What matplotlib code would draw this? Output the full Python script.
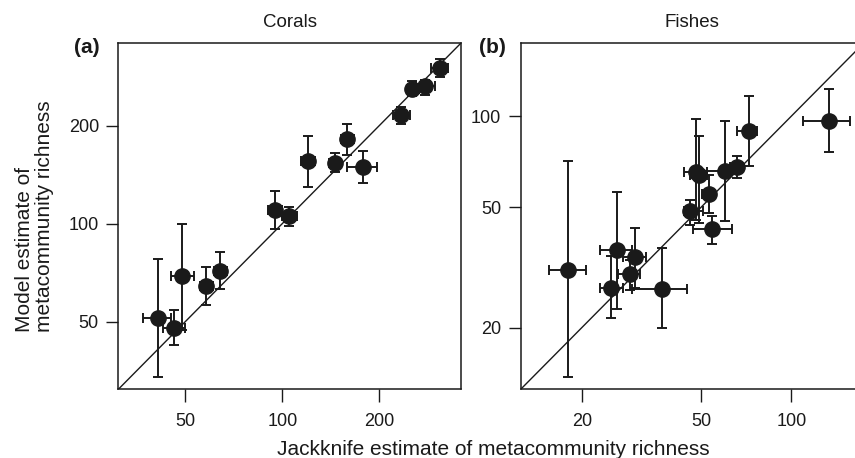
import numpy as np
import matplotlib
matplotlib.use("Agg")
import matplotlib.pyplot as plt
from matplotlib.ticker import NullLocator

plt.rcParams['font.family'] = ['Liberation Sans', 'DejaVu Sans']

# Corals: jackknife estimate (x) vs model estimate (y), with interval bounds
coral_x = [41.2, 46.2, 49.0, 58.1, 64.2, 95, 105, 120, 146, 159, 177.6, 233, 253, 277, 308]
coral_xlo = [37, 42.6, 45.2, 55.6, 61.2, 90.6, 100, 114, 140, 152.5, 158.3, 220.6, 243, 260, 290]
coral_xhi = [45.2, 50.0, 53.3, 60.9, 67.5, 100, 111, 126.6, 152, 167, 197, 249, 266, 298, 326]
coral_y = [51.4, 47.9, 69, 64.3, 71.5, 110.4, 105.4, 155.3, 153.6, 182.2, 149.2, 216, 259.5, 264, 300]
coral_ylo = [33.9, 42.3, 47, 56.1, 63.1, 96.4, 98.2, 129.3, 143.6, 162.8, 133.4, 203, 247, 248, 282]
coral_yhi = [78, 54.3, 100, 73.8, 81.8, 126.3, 112.7, 186, 164.7, 201.6, 166.6, 227.5, 273.5, 277, 321]

# Fishes
fish_x = [18.0, 25.1, 26.1, 29.0, 30.0, 36.9, 46.0, 48.0, 49.0, 53.0, 54.5, 60.0, 66.0, 72.0, 133.4]
fish_xlo = [15.5, 22.9, 23.0, 26.3, 27.5, 29.3, 43.8, 43.9, 45.8, 50.4, 46.8, 49.4, 62.3, 66, 109.2]
fish_xhi = [20.6, 27.4, 29.3, 31.2, 32.6, 44.8, 50.6, 52.4, 52.4, 55.8, 63.2, 63.3, 69, 77, 157]
fish_y = [31.1, 27.1, 36.0, 30.0, 34.2, 26.9, 48.5, 65.4, 63.8, 55.1, 42.3, 65.7, 68.0, 89.3, 96.6]
fish_ylo = [13.7, 21.5, 23.1, 26.6, 27.0, 19.9, 43.5, 45.3, 44.2, 47.8, 37.7, 45.0, 62.4, 68.4, 75.9]
fish_yhi = [71, 34.4, 56.2, 33.4, 42.8, 36.5, 52.7, 97.8, 86, 63.8, 46.9, 96.5, 73.8, 116.3, 123]

coral_lim = (31, 358)
fish_lim = (12.5, 174)
coral_ticks = [50, 100, 200]
fish_ticks = [20, 50, 100]

ink = '#1a1a1a'


def panel(ax, x, xlo, xhi, y, ylo, yhi, lim, ticks, title, tag_x, tag):
    x, y = np.array(x), np.array(y)
    xerr = [x - np.array(xlo), np.array(xhi) - x]
    yerr = [y - np.array(ylo), np.array(yhi) - y]
    ax.set_xscale('log')
    ax.set_yscale('log')
    ax.set_xlim(lim)
    ax.set_ylim(lim)
    ax.axline((lim[0], lim[0]), (lim[1], lim[1]), color=ink, lw=1.0, zorder=1)
    ax.errorbar(x, y, xerr=xerr, yerr=yerr, fmt='o', color=ink, ms=11,
                elinewidth=1.4, capsize=3.4, capthick=1.4, zorder=3)
    for a in (ax.xaxis, ax.yaxis):
        a.set_minor_locator(NullLocator())
    ax.set_xticks(ticks)
    ax.set_xticklabels([str(t) for t in ticks])
    ax.set_yticks(ticks)
    ax.set_yticklabels([str(t) for t in ticks])
    ax.tick_params(axis='both', length=9, width=1.0, color=ink, labelsize=13,
                   labelcolor=ink)
    ax.tick_params(axis='x', pad=8)
    ax.tick_params(axis='y', pad=5)
    for s in ax.spines.values():
        s.set_linewidth(1.1)
        s.set_color(ink)
    ax.set_title(title, fontsize=13.5, pad=11.5, color=ink)
    fig.text(tag_x, 0.896, tag, fontsize=15, fontweight='bold', ha='right',
             va='center', color=ink)


fig = plt.figure(figsize=(8.55, 4.58), dpi=100)
ax1 = fig.add_axes([0.1384, 0.150, 0.4005, 0.7555])
ax2 = fig.add_axes([0.609, 0.150, 0.401, 0.7555])

panel(ax1, coral_x, coral_xlo, coral_xhi, coral_y, coral_ylo, coral_yhi,
      coral_lim, coral_ticks, 'Corals', 0.117, '(a)')
panel(ax2, fish_x, fish_xlo, fish_xhi, fish_y, fish_ylo, fish_yhi,
      fish_lim, fish_ticks, 'Fishes', 0.592, '(b)')

fig.text(0.577, 0.007, 'Jackknife estimate of metacommunity richness',
         fontsize=15, ha='center', va='baseline', color=ink)
fig.text(0.040, 0.275, 'Model estimate of\nmetacommunity richness',
         fontsize=15, rotation=90, ha='center', va='bottom',
         multialignment='left', color=ink, linespacing=1.05)

fig.savefig('out.png', dpi=100)
